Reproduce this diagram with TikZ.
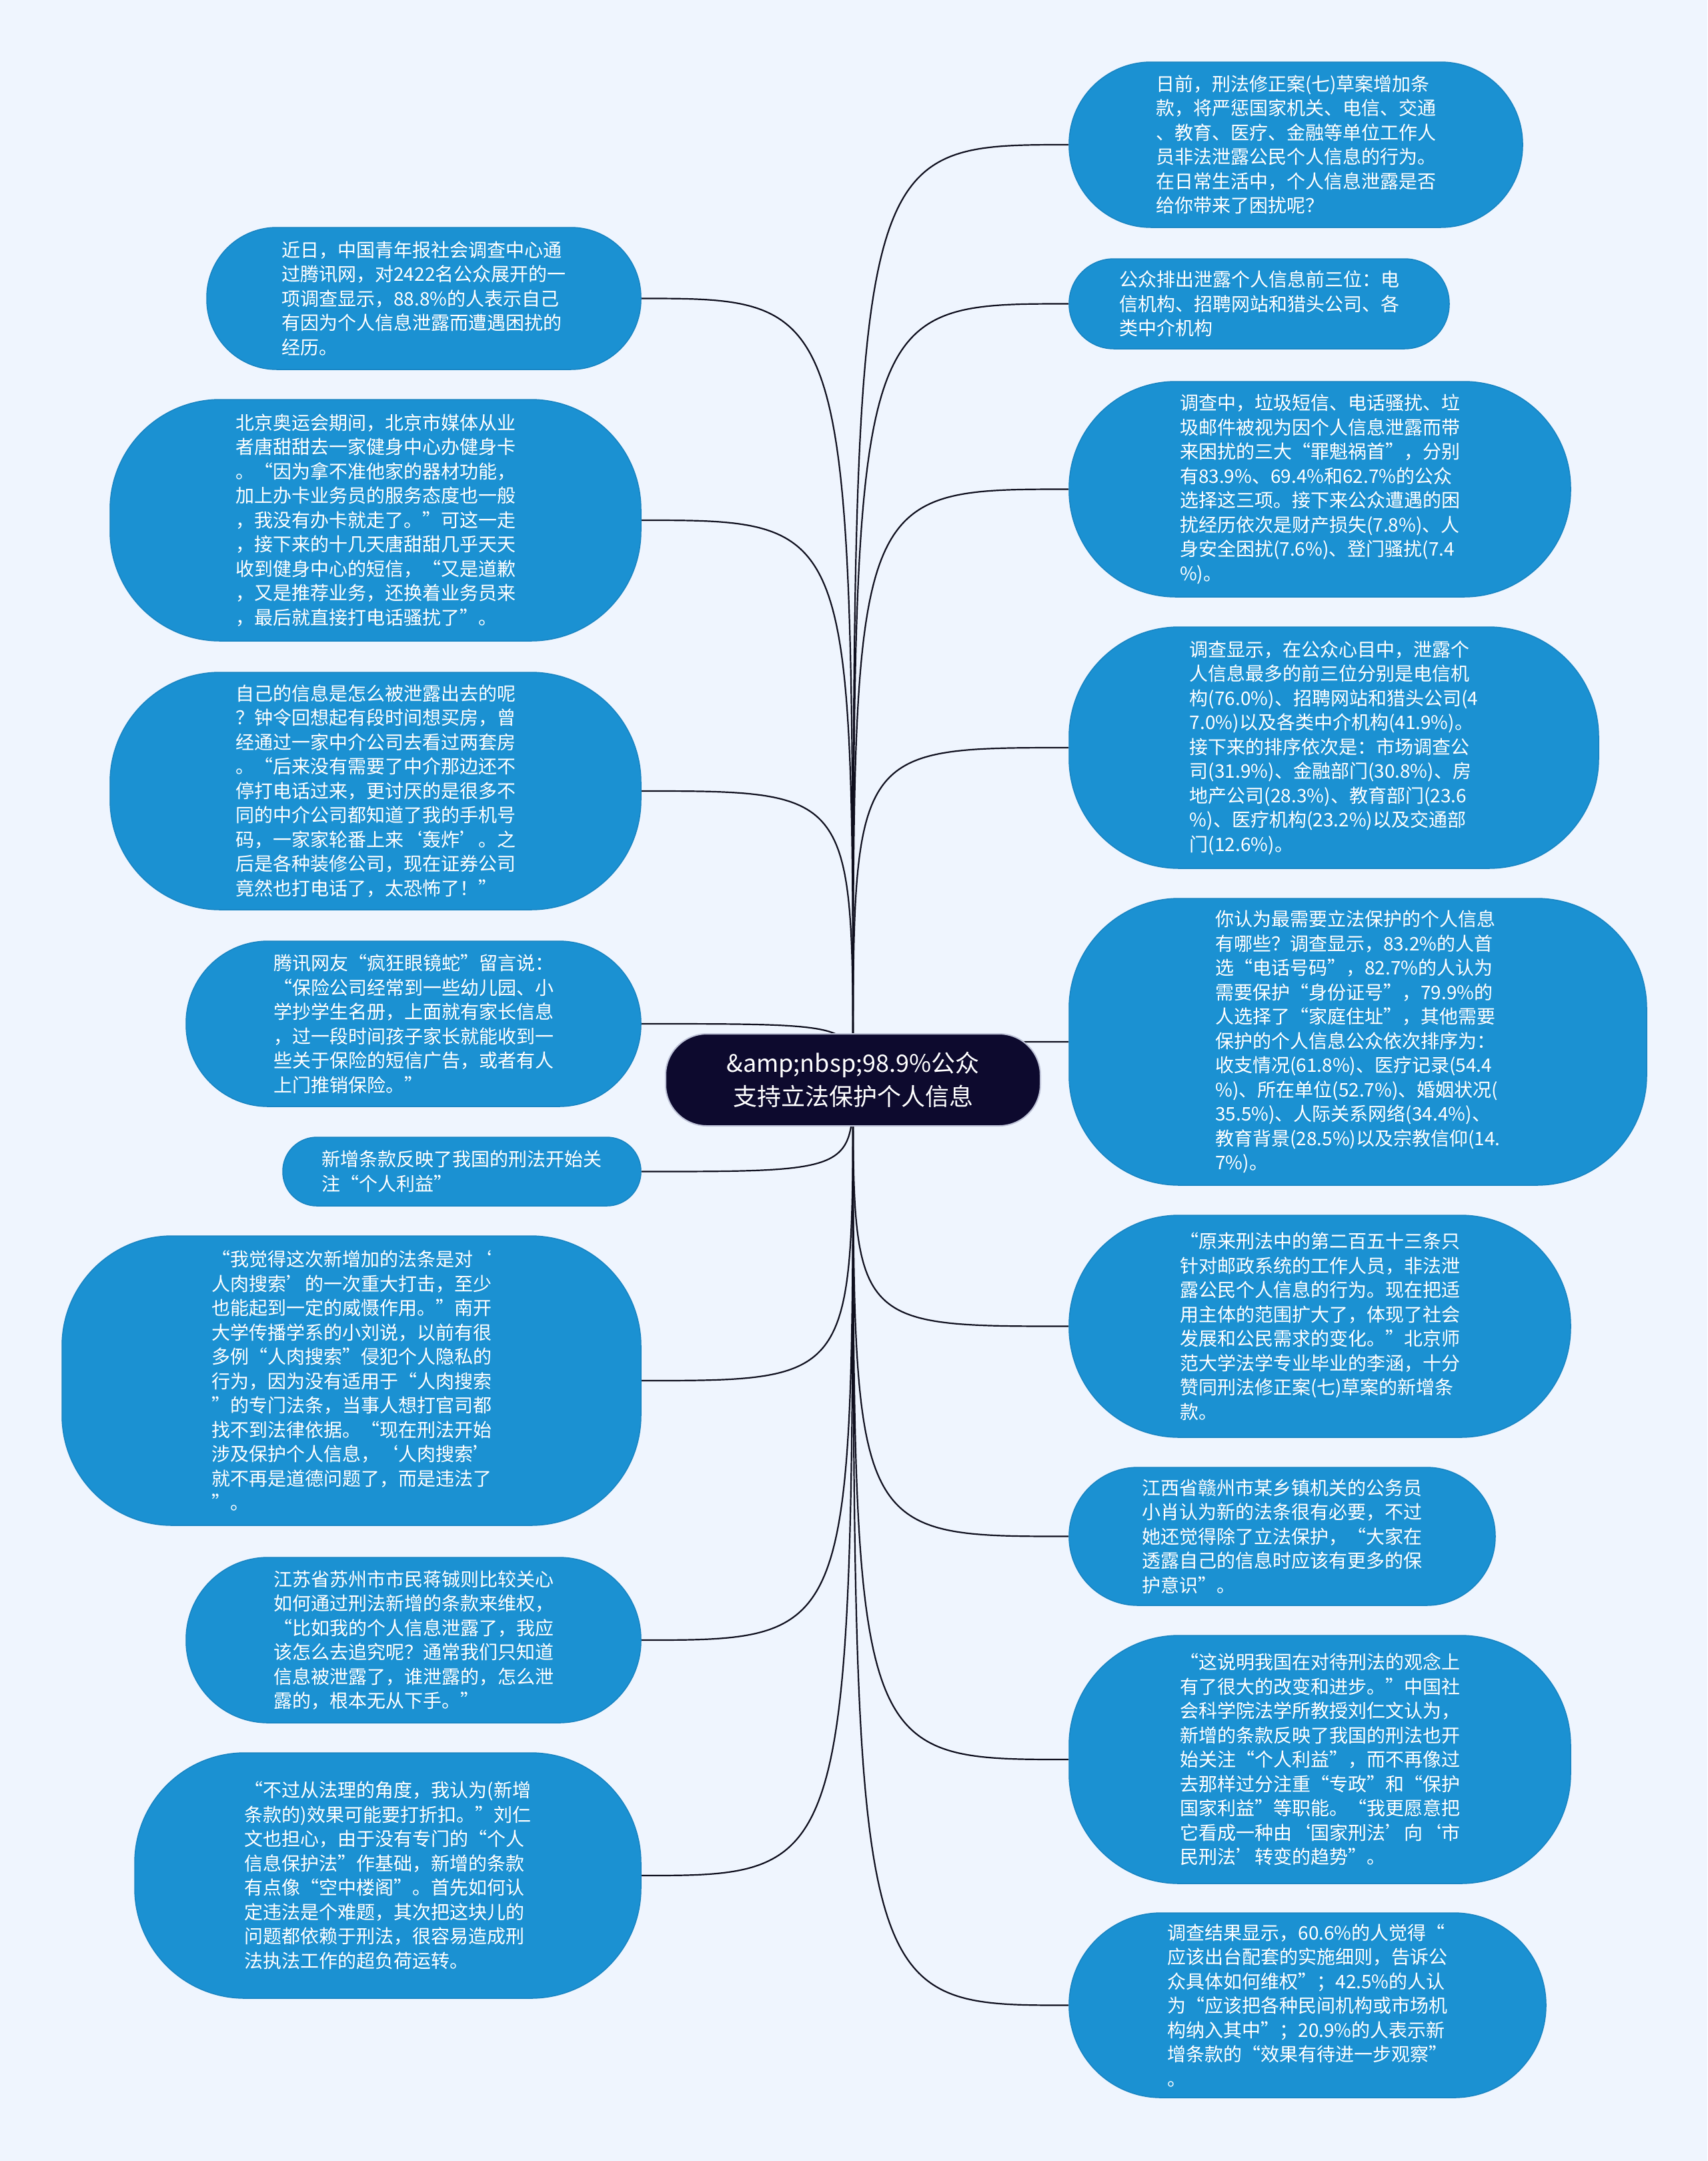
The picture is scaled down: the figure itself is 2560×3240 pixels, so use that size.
\documentclass[tikz,border=0pt]{standalone}
\usepackage{fontspec}
\setmainfont{Noto Sans CJK SC}
\usetikzlibrary{calc}
\definecolor{bgc}{RGB}{239,245,254}
\definecolor{bubc}{RGB}{27,145,210}
\definecolor{bubedge}{RGB}{24,132,194}
\definecolor{hubc}{RGB}{13,10,46}
\definecolor{hubedge}{RGB}{190,195,215}
\definecolor{linkc}{RGB}{15,15,30}
\pgfdeclarelayer{bgfill}
\pgfdeclarelayer{edges}
\pgfsetlayers{bgfill,edges,main}
\tikzset{
  bubble/.style={fill=bubc, draw=bubedge, line width=1.5pt, text=white, align=left,
    inner sep=0pt, font=\fontsize{28pt}{36.5pt}\selectfont},
  hubbox/.style={fill=hubc, draw=hubedge, line width=2pt, text=white, align=center,
    inner sep=0pt, minimum width=562pt, minimum height=138pt, rounded corners=62pt,
    font=\fontsize{36pt}{50pt}\selectfont},
  link/.style={draw=linkc, line width=2.2pt},
}
\newcommand{\bubnode}[7]{\node[bubble, minimum width=#4pt, minimum height=#5pt, rounded corners=#6pt] (#1) at (#2,#3) {#7};}
\begin{document}
\begin{tikzpicture}[x=1pt,y=-1pt]
\begin{pgfonlayer}{bgfill}
\fill[bgc] (0,0) rectangle (2560,3240);
\end{pgfonlayer}
\useasboundingbox (0,0) rectangle (2560,3240);

\node[hubbox] (hub) at (1279,1619) {\&amp;nbsp;98.9\%公众\\支持立法保护个人信息};
\coordinate (h) at (1279,1619);

% left side
\bubnode{L1}{635.5}{447.5}{651}{213}{105}{近日，中国青年报社会调查中心通\\过腾讯网，对2422名公众展开的一\\项调查显示，88.8\%的人表示自己\\有因为个人信息泄露而遭遇困扰的\\经历。}
\bubnode{L2}{563}{780}{796}{362}{165}{北京奥运会期间，北京市媒体从业\\者唐甜甜去一家健身中心办健身卡\\。“因为拿不准他家的器材功能，\\加上办卡业务员的服务态度也一般\\，我没有办卡就走了。”可这一走\\，接下来的十几天唐甜甜几乎天天\\收到健身中心的短信，“又是道歉\\，又是推荐业务，还换着业务员来\\，最后就直接打电话骚扰了”。}
\bubnode{L3}{563}{1186}{796}{356}{165}{自己的信息是怎么被泄露出去的呢\\？钟令回想起有段时间想买房，曾\\经通过一家中介公司去看过两套房\\。“后来没有需要了中介那边还不\\停打电话过来，更讨厌的是很多不\\同的中介公司都知道了我的手机号\\码，一家家轮番上来‘轰炸’。之\\后是各种装修公司，现在证券公司\\竟然也打电话了，太恐怖了！”}
\bubnode{L4}{620}{1535}{682}{248}{123}{腾讯网友“疯狂眼镜蛇”留言说：\\“保险公司经常到一些幼儿园、小\\学抄学生名册，上面就有家长信息\\，过一段时间孩子家长就能收到一\\些关于保险的短信广告，或者有人\\上门推销保险。”}
\bubnode{L5}{692.5}{1756.5}{537}{103}{51}{新增条款反映了我国的刑法开始关\\注“个人利益”}
\bubnode{L6}{527}{2070}{868}{434}{165}{“我觉得这次新增加的法条是对‘\\人肉搜索’的一次重大打击，至少\\也能起到一定的威慑作用。”南开\\大学传播学系的小刘说，以前有很\\多例“人肉搜索”侵犯个人隐私的\\行为，因为没有适用于“人肉搜索\\”的专门法条，当事人想打官司都\\找不到法律依据。“现在刑法开始\\涉及保护个人信息，‘人肉搜索’\\就不再是道德问题了，而是违法了\\”。}
\bubnode{L7}{620}{2459}{682}{248}{123}{江苏省苏州市市民蒋铖则比较关心\\如何通过刑法新增的条款来维权，\\“比如我的个人信息泄露了，我应\\该怎么去追究呢？通常我们只知道\\信息被泄露了，谁泄露的，怎么泄\\露的，根本无从下手。”}
\bubnode{L8}{581.5}{2812}{759}{368}{165}{“不过从法理的角度，我认为(新增\\条款的)效果可能要打折扣。”刘仁\\文也担心，由于没有专门的“个人\\信息保护法”作基础，新增的条款\\有点像“空中楼阁”。首先如何认\\定违法是个难题，其次把这块儿的\\问题都依赖于刑法，很容易造成刑\\法执法工作的超负荷运转。}

% right side
\bubnode{R1}{1943}{217}{680}{248}{123}{日前，刑法修正案(七)草案增加条\\款，将严惩国家机关、电信、交通\\、教育、医疗、金融等单位工作人\\员非法泄露公民个人信息的行为。\\在日常生活中，个人信息泄露是否\\给你带来了困扰呢？}
\bubnode{R2}{1888}{455.5}{570}{135}{67}{公众排出泄露个人信息前三位：电\\信机构、招聘网站和猎头公司、各\\类中介机构}
\bubnode{R3}{1979}{733.5}{752}{323}{160}{调查中，垃圾短信、电话骚扰、垃\\圾邮件被视为因个人信息泄露而带\\来困扰的三大“罪魁祸首”，分别\\有83.9\%、69.4\%和62.7\%的公众\\选择这三项。接下来公众遭遇的困\\扰经历依次是财产损失(7.8\%)、人\\身安全困扰(7.6\%)、登门骚扰(7.4\\\%)。}
\bubnode{R4}{2000}{1121}{794}{362}{165}{调查显示，在公众心目中，泄露个\\人信息最多的前三位分别是电信机\\构(76.0\%)、招聘网站和猎头公司(4\\7.0\%)以及各类中介机构(41.9\%)。\\接下来的排序依次是：市场调查公\\司(31.9\%)、金融部门(30.8\%)、房\\地产公司(28.3\%)、教育部门(23.6\\\%)、医疗机构(23.2\%)以及交通部\\门(12.6\%)。}
\bubnode{R5}{2036}{1562}{866}{430}{165}{你认为最需要立法保护的个人信息\\有哪些？调查显示，83.2\%的人首\\选“电话号码”，82.7\%的人认为\\需要保护“身份证号”，79.9\%的\\人选择了“家庭住址”，其他需要\\保护的个人信息公众依次排序为：\\收支情况(61.8\%)、医疗记录(54.4\\\%)、所在单位(52.7\%)、婚姻状况(\\35.5\%)、人际关系网络(34.4\%)、\\教育背景(28.5\%)以及宗教信仰(14.\\7\%)。}
\bubnode{R6}{1979}{1988.5}{752}{333}{165}{“原来刑法中的第二百五十三条只\\针对邮政系统的工作人员，非法泄\\露公民个人信息的行为。现在把适\\用主体的范围扩大了，体现了社会\\发展和公民需求的变化。”北京师\\范大学法学专业毕业的李涵，十分\\赞同刑法修正案(七)草案的新增条\\款。}
\bubnode{R7}{1922.5}{2303.5}{639}{207}{103}{江西省赣州市某乡镇机关的公务员\\小肖认为新的法条很有必要，不过\\她还觉得除了立法保护，“大家在\\透露自己的信息时应该有更多的保\\护意识”。}
\bubnode{R8}{1979}{2638}{752}{372}{165}{“这说明我国在对待刑法的观念上\\有了很大的改变和进步。”中国社\\会科学院法学所教授刘仁文认为，\\新增的条款反映了我国的刑法也开\\始关注“个人利益”，而不再像过\\去那样过分注重“专政”和“保护\\国家利益”等职能。“我更愿意把\\它看成一种由‘国家刑法’向‘市\\民刑法’转变的趋势”。}
\bubnode{R9}{1960.5}{3006.5}{715}{277}{138}{调查结果显示，60.6\%的人觉得“\\应该出台配套的实施细则，告诉公\\众具体如何维权”；42.5\%的人认\\为“应该把各种民间机构或市场机\\构纳入其中”；20.9\%的人表示新\\增条款的“效果有待进一步观察”\\。}

\begin{pgfonlayer}{edges}
\foreach \n in {L1,L2,L3,L4,L5,L6,L7,L8}
  \draw[link] (h) .. controls (h |- \n.east) .. (\n.east);
\foreach \n in {R1,R2,R3,R4,R5,R6,R7,R8,R9}
  \draw[link] (h) .. controls (h |- \n.west) .. (\n.west);
\end{pgfonlayer}
\end{tikzpicture}
\end{document}
